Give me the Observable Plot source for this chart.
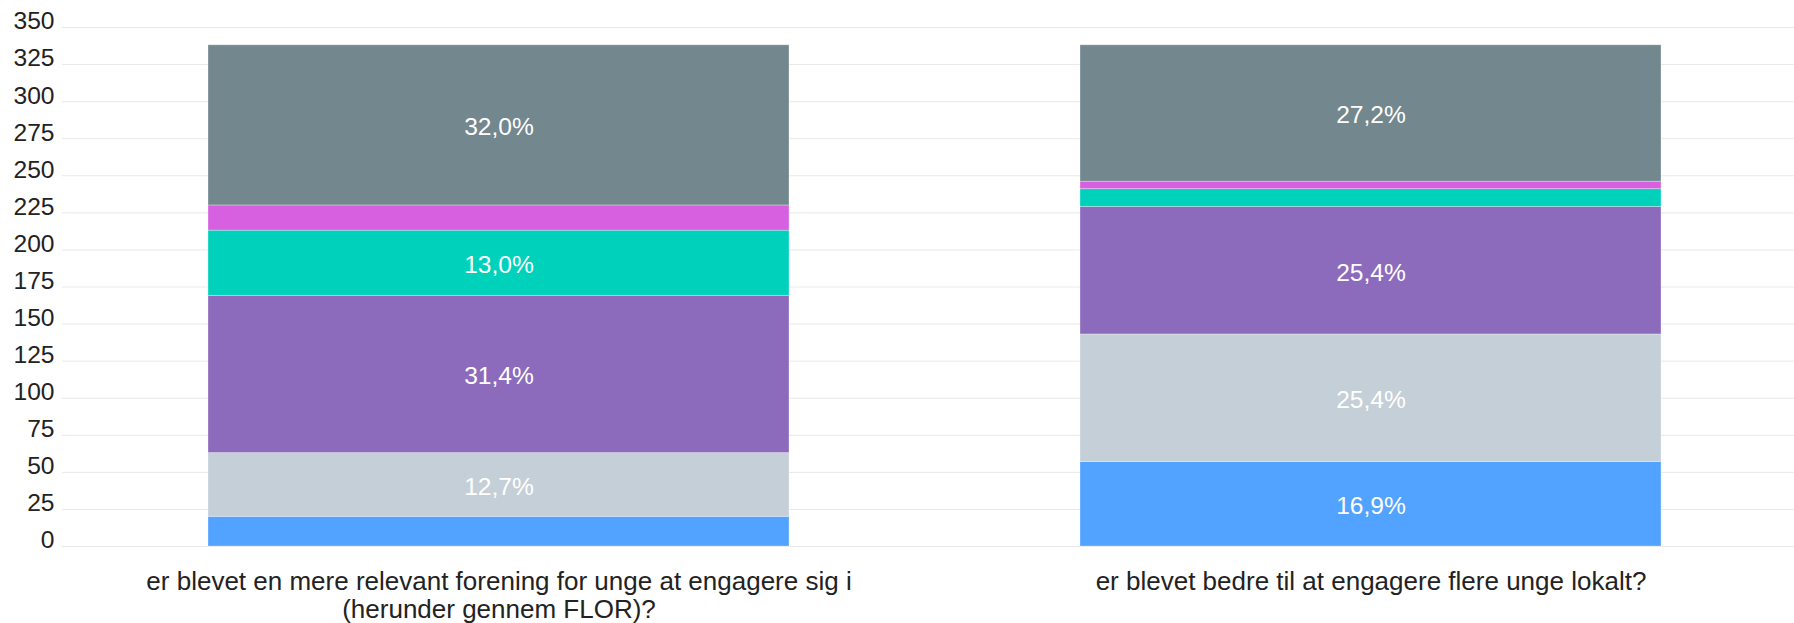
<!DOCTYPE html>
<html>
<head>
<meta charset="utf-8">
<script src="https://cdn.jsdelivr.net/npm/d3@7"></script>
<script src="https://cdn.jsdelivr.net/npm/@observablehq/plot@0.6"></script>
<style>
  html, body { margin: 0; padding: 0; background: #ffffff; }
</style>
</head>
<body>
<div id="chart"></div>
<script>
// Categories (questions on the x axis)
const questions = [
  "er blevet en mere relevant forening for unge at engagere sig i (herunder gennem FLOR)?",
  "er blevet bedre til at engagere flere unge lokalt?"
];

// Answer series, bottom to top of each stack
const series = ["Svar 1", "Svar 2", "Svar 3", "Svar 4", "Svar 5", "Svar 6"];
const seriesColors = ["#52a3ff", "#c5cfd7", "#8c6bbd", "#00d1bb", "#d660e0", "#72878e"];

// Counts per series (bottom to top) for each question
const valuesQ1 = [20, 43, 106, 44, 17, 108];
const valuesQ2 = [57, 86, 86, 12, 5, 92];

// Y axis tick values
const yTicks = [0, 25, 50, 75, 100, 125, 150, 175, 200, 225, 250, 275, 300, 325, 350];

const valuesByQuestion = [valuesQ1, valuesQ2];
const data = [];
questions.forEach((q, qi) => {
  const vals = valuesByQuestion[qi];
  const total = d3.sum(vals);
  series.forEach((s, si) => {
    data.push({question: q, series: s, value: vals[si], pct: vals[si] / total * 100});
  });
});

const fmtPct = d => d.pct >= 10 ? d.pct.toFixed(1).replace(".", ",") + "%" : "";

const chart = Plot.plot({
  width: 1794,
  height: 623,
  marginLeft: 62,
  marginRight: 0,
  marginTop: 27,
  marginBottom: 77,
  style: {fontFamily: "'Liberation Sans', Arial, sans-serif", background: "#ffffff"},
  x: {domain: questions, paddingInner: 0.3335, paddingOuter: 0.159, align: 0.523, label: null},
  y: {domain: [0, 350], label: null},
  color: {domain: series, range: seriesColors},
  marks: [
    Plot.gridY(yTicks, {stroke: "#e8e8e8", strokeOpacity: 1, strokeWidth: 1}),
    Plot.barY(data, {x: "question", y: "value", fill: "series", stroke: "#ffffff", strokeOpacity: 0.3, strokeWidth: 1}),
    Plot.text(data, Plot.stackY({x: "question", y: "value", z: "series", text: fmtPct, fill: "#ffffff", fontSize: 24.6, dy: 2})),
    Plot.axisY(yTicks, {tickSize: 0, tickPadding: 8, fontSize: 24.6, fill: "#222222", dy: -6, label: null}),
    Plot.axisX({tickSize: 0, tickPadding: 23.5, fontSize: 26, lineWidth: 30, lineHeight: 1.08, fill: "#222222", label: null})
  ]
});

document.getElementById("chart").appendChild(chart);
</script>
</body>
</html>
